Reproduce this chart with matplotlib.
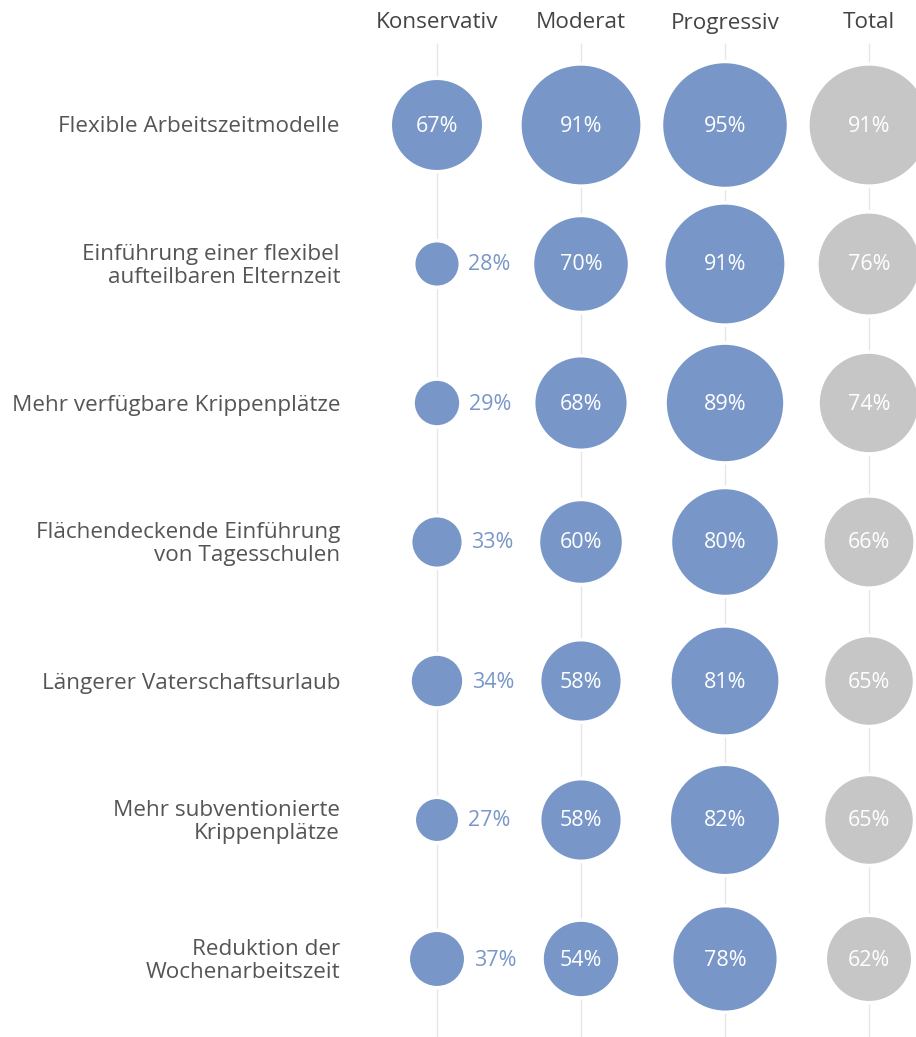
import matplotlib
matplotlib.use("Agg")
from matplotlib import pyplot as plt
from matplotlib.patches import Circle

plt.rcParams['font.family'] = ['Open Sans', 'DejaVu Sans']

# data
groups = ["Konservativ", "Moderat", "Progressiv", "Total"]
measures = [
    "Flexible Arbeitszeitmodelle",
    "Einführung einer flexibel\naufteilbaren Elternzeit",
    "Mehr verfügbare Krippenplätze",
    "Flächendeckende Einführung\nvon Tagesschulen",
    "Längerer Vaterschaftsurlaub",
    "Mehr subventionierte\nKrippenplätze",
    "Reduktion der\nWochenarbeitszeit",
]
konservativ = [67, 28, 29, 33, 34, 27, 37]
moderat = [91, 70, 68, 60, 58, 58, 54]
progressiv = [95, 91, 89, 80, 81, 82, 78]
total = [91, 76, 74, 66, 65, 65, 62]
values = [konservativ, moderat, progressiv, total]

blue = "#7897c8"
grey = "#c6c6c6"
colors = [blue, blue, blue, grey]

fig = plt.figure(figsize=(9.16, 10.37), dpi=100)
ax = fig.add_axes([0, 0, 1, 1])
ax.set_xlim(0, 916)
ax.set_ylim(1037, 0)
ax.axis("off")

col_x = [437, 581, 725, 869]
row_y = [125 + 139 * i for i in range(len(measures))]


def radius(v):
    return 6.5 + 0.6 * v


ax.vlines(col_x, 43, 1037, color="#e6e6e6", lw=1, zorder=0)

for j, g in enumerate(groups):
    ax.text(col_x[j], 23, g, ha="center", va="center", fontsize=16.2, color="#444444")
    for i, v in enumerate(values[j]):
        r = radius(v)
        ax.add_patch(Circle((col_x[j], row_y[i]), r, facecolor=colors[j],
                            edgecolor="white", lw=2.5, zorder=2))
        if v < 50:
            ax.text(col_x[j] + r + 8, row_y[i] + 1, f"{v}%", ha="left", va="center",
                    fontsize=15.5, color=blue, zorder=3)
        else:
            ax.text(col_x[j], row_y[i] + 1, f"{v}%", ha="center", va="center",
                    fontsize=15.5, color="white", zorder=3)

for i, m in enumerate(measures):
    ax.text(340, row_y[i] + 2, m, ha="right", va="center", fontsize=16.2,
            color="#555555", linespacing=1.15, multialignment="right")

plt.savefig("out.png", dpi=100)
